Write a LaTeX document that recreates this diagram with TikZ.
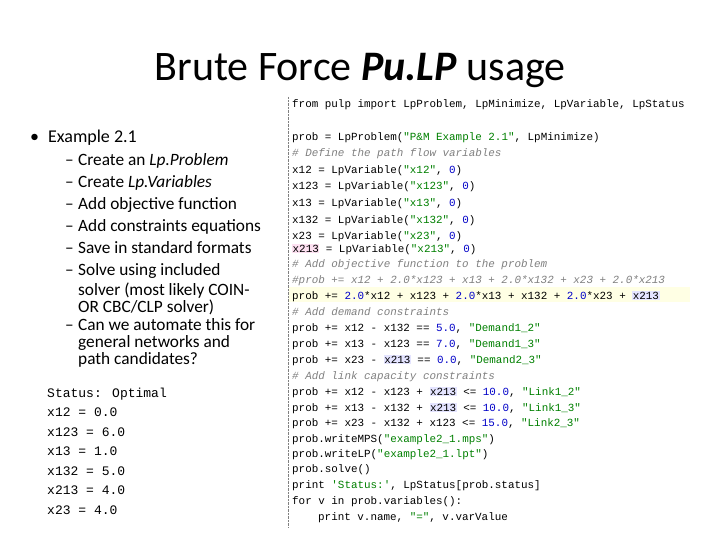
\documentclass[tikz,border=0pt]{standalone}
\usepackage{fontspec}
\setmainfont{Carlito}
\newfontfamily\mono{Liberation Mono}
\definecolor{strg}{RGB}{0,128,0}
\definecolor{numb}{RGB}{0,0,200}
\definecolor{cmt}{RGB}{128,128,128}
\definecolor{hl}{RGB}{255,255,228}
\definecolor{hb}{RGB}{228,228,255}
\newcommand\Sg[1]{\textcolor{strg}{#1}}
\newcommand\Nm[1]{\textcolor{numb}{#1}}
\newcommand\Cm[1]{\textcolor{cmt}{\itshape #1}}
\newcommand\Hb[1]{\colorbox{hb}{#1}}
\newcommand\Dsh{\makebox[13pt][l]{–}}
\tikzset{
 code/.style={anchor=base west,inner sep=0pt,font=\mono\fontsize{10.9}{12}\selectfont},
 outp/.style={anchor=base west,inner sep=0pt,font=\mono\fontsize{13}{14}\selectfont},
 txt/.style={anchor=base west,inner sep=0pt,font=\fontsize{17.3}{19}\selectfont,align=left},
}
\setlength{\fboxsep}{0.5pt}
\begin{document}
\begin{tikzpicture}[x=1pt,y=-1pt]
\useasboundingbox[fill=white] (0,0) rectangle (720,540);
\node[font=\fontsize{42}{44}\selectfont,anchor=base] (title) at (360,81) {Brute Force \textbf{\itshape Pu.LP} usage};
% left text
\node[txt,font=\fontsize{18}{20}\selectfont] (b1) at (30,143) {•\hspace{9pt}Example 2.1};
\foreach \y/\t [count=\i] in {166/Create an \textit{Lp.Problem},188/Create \textit{Lp.Variables},210/Add objective function,232/Add constraints equations,254/Save in standard formats}
 {\node[txt] (d\i) at (65,\y) {\Dsh\t};}
\node[txt] (d6) at (65,275) {\Dsh Solve using included};
\node[txt] (d6b) at (78,295) {solver (most likely COIN-};
\node[txt] (d6c) at (78,312) {OR CBC/CLP solver)};
\node[txt] (d7) at (65,330) {\Dsh Can we automate this for};
\node[txt] (d7b) at (78,347) {general networks and};
\node[txt] (d7c) at (78,364) {path candidates?};
% output
\foreach \y/\t [count=\i] in {397/Status: Optimal,416/x12 = 0.0,436/x123 = 6.0,455/x13 = 1.0,475/x132 = 5.0,494/x213 = 4.0,514/x23 = 4.0}
 {\node[outp] (o\i) at (47,\y) {\t};}
% code
\draw[densely dotted,gray] (288,97) coordinate (ta) -- (288,527) coordinate (tb);
\fill[hl] (289,287) rectangle (690,302);
\node[code] (c1) at (292,108) {from pulp import LpProblem, LpMinimize, LpVariable, LpStatus};
\node[code] (c2) at (292,141) {prob = LpProblem(\Sg{"P\&M Example 2.1"}, LpMinimize)};
\node[code] (c3) at (292,157) {\Cm{\# Define the path flow variables}};
\node[code] (c4) at (292,174) {x12 = LpVariable(\Sg{"x12"}, \Nm{0})};
\node[code] (c5) at (292,190) {x123 = LpVariable(\Sg{"x123"}, \Nm{0})};
\node[code] (c6) at (292,207) {x13 = LpVariable(\Sg{"x13"}, \Nm{0})};
\node[code] (c7) at (292,223) {x132 = LpVariable(\Sg{"x132"}, \Nm{0})};
\node[code] (c8) at (292,240) {x23 = LpVariable(\Sg{"x23"}, \Nm{0})};
\node[code] (c9) at (292,252) {\colorbox{magenta!12}{x213} = LpVariable(\Sg{"x213"}, \Nm{0})};
\node[code] (c10) at (292,267) {\Cm{\# Add objective function to the problem}};
\node[code] (c11) at (292,283) {\Cm{\#prob += x12 + 2.0*x123 + x13 + 2.0*x132 + x23 + 2.0*x213}};
\node[code] (c12) at (292,299) {prob += \Nm{2.0}*x12 + x123 + \Nm{2.0}*x13 + x132 + \Nm{2.0}*x23 + \Hb{x213}};
\node[code] (c13) at (292,315) {\Cm{\# Add demand constraints}};
\node[code] (c14) at (292,331) {prob += x12 - x132 == \Nm{5.0}, \Sg{"Demand1\_2"}};
\node[code] (c15) at (292,347) {prob += x13 - x123 == \Nm{7.0}, \Sg{"Demand1\_3"}};
\node[code] (c16) at (292,363) {prob += x23 - \Hb{x213} == \Nm{0.0}, \Sg{"Demand2\_3"}};
\node[code] (c17) at (292,379) {\Cm{\# Add link capacity constraints}};
\node[code] (c18) at (292,395) {prob += x12 - x123 + \Hb{x213} <= \Nm{10.0}, \Sg{"Link1\_2"}};
\node[code] (c19) at (292,411) {prob += x13 - x132 + \Hb{x213} <= \Nm{10.0}, \Sg{"Link1\_3"}};
\node[code] (c20) at (292,426) {prob += x23 - x132 + x123 <= \Nm{15.0}, \Sg{"Link2\_3"}};
\node[code] (c21) at (292,442) {prob.writeMPS(\Sg{"example2\_1.mps"})};
\node[code] (c22) at (292,457) {prob.writeLP(\Sg{"example2\_1.lpt"})};
\node[code] (c23) at (292,472) {prob.solve()};
\node[code] (c24) at (292,488) {print \Sg{'Status:'}, LpStatus[prob.status]};
\node[code] (c25) at (292,504) {for v in prob.variables():};
\node[code] (c26) at (292,520) {\hspace{26pt}print v.name, \Sg{"="}, v.varValue};
\end{tikzpicture}
\end{document}
